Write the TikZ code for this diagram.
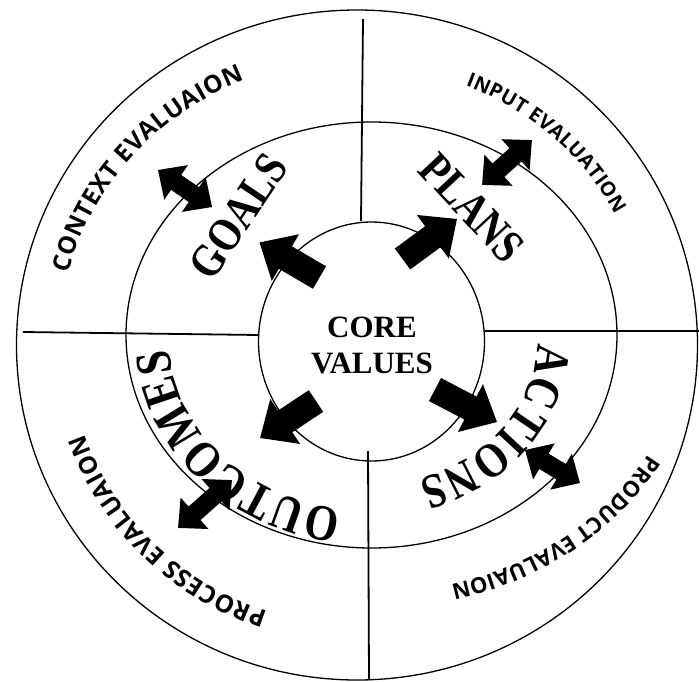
\documentclass[tikz,border=0pt]{standalone}
\usepackage{fontspec}
\setmainfont{Liberation Serif}
\newfontfamily\evalfont{Open Sans}
\newfontfamily\archfont{Liberation Serif}[FakeStretch=0.84]
\usetikzlibrary{decorations.text}
\tikzset{
  ring/.style={line width=1.3pt},
  divider/.style={line width=1.8pt},
  bigword/.style={font=\archfont\bfseries\fontsize{47}{47}\selectfont, inner sep=0pt},
}
% single block arrow: tail x, tail y, angle, length
\newcommand\SingleArrow[4]{%
  \begin{scope}[shift={(#1,#2)},rotate=#3]
    \fill (0,-13) -- ({#4-30},-13) -- ({#4-30},-27) -- (#4,0) -- ({#4-30},27) -- ({#4-30},13) -- (0,13) -- cycle;
  \end{scope}}
% double block arrow: centre x, centre y, angle, length
\newcommand\DoubleArrow[4]{%
  \begin{scope}[shift={(#1,#2)},rotate=#3]
    \fill ({-#4/2},0) -- ({-#4/2+22},-21) -- ({-#4/2+22},-9) -- ({#4/2-22},-9) -- ({#4/2-22},-21) -- ({#4/2},0)
      -- ({#4/2-22},21) -- ({#4/2-22},9) -- ({-#4/2+22},9) -- ({-#4/2+22},21) -- cycle;
  \end{scope}}
% text on an elliptic arc: cx cy rx ry start end font text
\newcommand\ArcText[8]{%
  \path[decorate, decoration={text along path, text align=fit to path, text={|#7|#8}}]
    (#1,#2) ++(#5:#3 and #4) arc[start angle=#5, end angle=#6, x radius=#3, y radius=#4];}
\begin{document}
\begin{tikzpicture}[x=1pt,y=-1pt]
\useasboundingbox (0,0) rectangle (699,682);
\fill[white] (0,0) rectangle (699,682);

% rings
\draw[ring] (357,345) ellipse [x radius=340.5, y radius=335];
\draw[ring] (371.5,335) ellipse [x radius=245.5, y radius=213];
\draw[ring] (371.5,341.5) ellipse [x radius=113, y radius=119.5];

% dividers
\coordinate (vt1) at (363,19);  \coordinate (vt2) at (361,221);
\coordinate (hl1) at (23,332);  \coordinate (hl2) at (259,335);
\coordinate (hr1) at (485,331); \coordinate (hr2) at (699,331);
\coordinate (vb1) at (368,451); \coordinate (vb2) at (369,680);
\draw[divider] (vt1) -- (vt2);
\draw[divider] (hl1) -- (hl2);
\draw[divider] (hr1) -- (hr2);
\draw[divider] (vb1) -- (vb2);

% centre
\node[align=center, font=\bfseries\fontsize{31}{36}\selectfont, inner sep=0pt] (core) at (372,345) {CORE\\VALUES};

% inner block arrows
\SingleArrow{319.5}{277.5}{149.7}{69.5}
\SingleArrow{402.5}{259}{36.3}{67.6}
\SingleArrow{435}{389.5}{-27.7}{70}
\SingleArrow{316}{401}{-146.5}{67}

% double arrows on the middle ring
\DoubleArrow{185}{188.5}{-34.4}{65.5}
\DoubleArrow{507}{162.5}{42}{67}
\DoubleArrow{552.5}{466.5}{-31}{64}
\DoubleArrow{205}{504}{41.6}{72}

% big words
\node[bigword, rotate=56] (goals) at (238.5,216.5) {GOALS};
\node[bigword, rotate=-47] (plans) at (472,208) {PLANS};
\ArcText{371}{338}{167}{147}{2}{73.5}{\archfont\bfseries\fontsize{49}{49}\selectfont}{ACTIONS}
\ArcText{371}{338}{202}{174}{98.5}{176.5}{\archfont\bfseries\fontsize{51}{51}\selectfont}{OUTCOMES}

% evaluation texts
\ArcText{362}{340}{302}{282}{-166.3}{-112.8}{\evalfont\bfseries\fontsize{24.5}{24.5}\selectfont}{CONTEXT EVALUAION}
\ArcText{362}{340}{285}{273}{-68.7}{-27.4}{\evalfont\bfseries\fontsize{20}{20}\selectfont}{INPUT EVALUATION}
\ArcText{362}{340}{320}{255}{26.6}{73.9}{\evalfont\bfseries\fontsize{22}{22}\selectfont}{PRODUCT EVALUAION}
\ArcText{362}{340}{294}{287}{108.7}{160.8}{\evalfont\bfseries\fontsize{24.5}{24.5}\selectfont}{PROCESS EVALUAION}
\end{tikzpicture}
\end{document}
